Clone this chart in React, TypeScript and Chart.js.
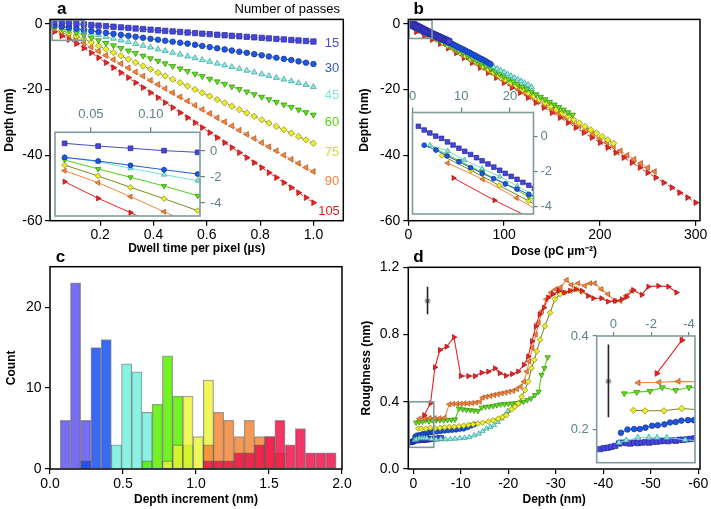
import { useEffect, useRef } from 'react';
import { Chart, registerables } from 'chart.js';

Chart.register(...registerables);

const FONT = "'Liberation Sans', Arial, Helvetica, sans-serif";
Chart.defaults.font.family = FONT;

const FIG_W = 711;
const FIG_H = 509;

/* ---------------- data: panels a & b ---------------- */
const PASSES = [15, 30, 45, 60, 75, 90, 105];
const DWELL_US = [
  0.028, 0.056, 0.083, 0.111, 0.139, 0.167, 0.194, 0.222, 0.25, 0.278, 0.306, 0.333,
  0.361, 0.389, 0.417, 0.444, 0.472, 0.5, 0.528, 0.556, 0.583, 0.611, 0.639, 0.667,
  0.694, 0.722, 0.75, 0.778, 0.806, 0.833, 0.861, 0.889, 0.917, 0.944, 0.972, 1.0,
];
const DEPTH_15 = [
  0.59, 0.38, 0.21, 0.03, -0.1, -0.3, -0.48, -0.66, -0.84, -1.02, -1.2, -1.38,
  -1.56, -1.74, -1.92, -2.1, -2.27, -2.44, -2.61, -2.78, -2.95, -3.11, -3.27, -3.43,
  -3.59, -3.75, -3.91, -4.07, -4.23, -4.39, -4.55, -4.71, -4.87, -5.03, -5.19, -5.35,
];
const DEPTH_30 = [
  -0.49, -0.77, -1.1, -1.44, -1.77, -2.1, -2.4, -2.7, -3.0, -3.3, -3.6, -3.9,
  -4.2, -4.5, -4.8, -5.1, -5.4, -5.7, -6.0, -6.35, -6.7, -7.05, -7.4, -7.75,
  -8.1, -8.45, -8.8, -9.2, -9.55, -9.9, -10.3, -10.65, -11.0, -11.4, -11.8, -12.2,
];
const DEPTH_45 = [
  -0.49, -0.82, -1.33, -1.82, -2.28, -2.83, -3.35, -3.9, -4.45, -5.0, -5.5, -6.05,
  -6.6, -7.15, -7.7, -8.2, -8.75, -9.3, -9.85, -10.4, -10.95, -11.5, -12.05, -12.6,
  -13.1, -13.65, -14.2, -14.75, -15.3, -15.85, -16.4, -16.9, -17.45, -18.0, -18.55, -19.2,
];
const DEPTH_60 = [
  -0.69, -1.38, -2.02, -2.69, -3.44, -4.2, -5.0, -5.8, -6.55, -7.35, -8.15, -8.9,
  -9.7, -10.5, -11.25, -12.05, -12.85, -13.6, -14.4, -15.2, -15.95, -16.75, -17.55, -18.3,
  -19.1, -19.9, -20.65, -21.45, -22.25, -23.0, -23.8, -24.6, -25.35, -26.15, -26.95, -27.7,
];
const DEPTH_75 = [
  -1.08, -1.92, -2.79, -3.67, -4.59, -5.6, -6.65, -7.65, -8.7, -9.7, -10.75, -11.75,
  -12.8, -13.8, -14.85, -15.85, -16.9, -17.9, -18.95, -19.95, -21.0, -22.0, -23.05, -24.05,
  -25.1, -26.1, -27.15, -28.15, -29.2, -30.2, -31.25, -32.25, -33.3, -34.3, -35.35, -36.4,
];
const DEPTH_90 = [
  -1.51, -2.44, -3.51, -4.67, -5.8, -7.05, -8.3, -9.6, -10.85, -12.1, -13.4, -14.65,
  -15.9, -17.2, -18.45, -19.7, -21.0, -22.25, -23.5, -24.8, -26.05, -27.3, -28.6, -29.85,
  -31.1, -32.4, -33.65, -34.9, -36.2, -37.45, -38.7, -40.0, -41.25, -42.5, -43.8, -45.0,
];
const DEPTH_105 = [
  -2.36, -3.64, -4.74, -6.0, -7.35, -8.8, -10.3, -11.8, -13.3, -14.85, -16.35, -17.9,
  -19.4, -20.95, -22.45, -24.0, -25.5, -27.05, -28.55, -30.1, -31.6, -33.15, -34.65, -36.2,
  -37.7, -39.25, -40.75, -42.3, -43.8, -45.35, -46.85, -48.4, -49.9, -51.45, -52.95, -54.5,
];
// dose per pass for 1 µs dwell (pC µm^-2)
const DOSE_PER_PASS_US = 2.857;

/* ---------------- data: panel c ---------------- */
const BIN_CENTERS = [
  0.105, 0.175, 0.245, 0.315, 0.385, 0.455, 0.525, 0.595, 0.665, 0.735, 0.805, 0.875, 0.945,
  1.015, 1.085, 1.155, 1.225, 1.295, 1.365, 1.435, 1.505, 1.575, 1.645, 1.715, 1.785, 1.855, 1.925,
];
const HIST_15 = [6, 23, 6, 0, 0, 0, 0, 0, 0, 0, 0, 0, 0, 0, 0, 0, 0, 0, 0, 0, 0, 0, 0, 0, 0, 0, 0];
const HIST_30 = [0, 0, 1, 15, 16, 0, 0, 0, 0, 0, 0, 0, 0, 0, 0, 0, 0, 0, 0, 0, 0, 0, 0, 0, 0, 0, 0];
const HIST_45 = [0, 0, 0, 0, 0, 3, 13, 12, 7, 0, 0, 0, 0, 0, 0, 0, 0, 0, 0, 0, 0, 0, 0, 0, 0, 0, 0];
const HIST_60 = [0, 0, 0, 0, 0, 0, 0, 0, 1, 8, 14, 9, 3, 0, 0, 0, 0, 0, 0, 0, 0, 0, 0, 0, 0, 0, 0];
const HIST_75 = [0, 0, 0, 0, 0, 0, 0, 0, 0, 0, 1, 3, 9, 4, 11, 0, 0, 0, 0, 0, 0, 0, 0, 0, 0, 0, 0];
const HIST_90 = [0, 0, 0, 0, 0, 0, 0, 0, 0, 0, 0, 0, 0, 0, 3, 7, 6, 4, 6, 4, 4, 2, 0, 0, 0, 0, 0];
const HIST_105 = [0, 0, 0, 0, 0, 0, 0, 0, 0, 0, 0, 0, 0, 0, 1, 1, 1, 2, 2, 3, 4, 6, 3, 5, 2, 2, 2];

/* ---------------- data: panel d  [depth, roughness] ---------------- */
const ROUGH_15 = [
  [0.7, 0.158], [0.5, 0.16], [0.3, 0.161], [0.1, 0.163], [-0.1, 0.165], [-0.3, 0.17], [-0.5, 0.172],
  [-0.7, 0.171], [-0.9, 0.17], [-1.1, 0.172], [-1.3, 0.171], [-1.5, 0.172], [-1.7, 0.173], [-1.9, 0.172],
  [-2.1, 0.174], [-2.3, 0.174], [-2.5, 0.175], [-2.7, 0.176], [-2.9, 0.175], [-3.1, 0.177], [-3.3, 0.176],
  [-3.5, 0.178], [-3.7, 0.178], [-3.9, 0.179], [-4.1, 0.18], [-4.3, 0.181], [-4.7, 0.181], [-5.1, 0.182],
  [-5.5, 0.184], [-5.9, 0.185],
];
const ROUGH_30 = [
  [-0.4, 0.193], [-0.75, 0.2], [-1.1, 0.201], [-1.4, 0.201], [-1.7, 0.204], [-2.05, 0.208], [-2.35, 0.209],
  [-2.7, 0.211], [-3.0, 0.215], [-3.3, 0.216], [-3.6, 0.219], [-3.95, 0.22], [-4.25, 0.22], [-5.0, 0.222],
  [-5.8, 0.225], [-6.6, 0.228], [-7.4, 0.23], [-8.2, 0.232], [-9.0, 0.234], [-9.8, 0.238], [-10.6, 0.24],
  [-11.4, 0.248], [-12.2, 0.258], [-12.8, 0.265],
];
const ROUGH_45 = [
  [-0.3, 0.172], [-0.68, 0.177], [-1.3, 0.183], [-1.88, 0.183], [-2.32, 0.183], [-2.83, 0.183], [-3.8, 0.178],
  [-4.8, 0.175], [-5.8, 0.178], [-6.8, 0.176], [-7.8, 0.178], [-8.8, 0.18], [-9.8, 0.183], [-10.8, 0.185],
  [-11.8, 0.19], [-12.8, 0.2], [-13.8, 0.21], [-14.6, 0.225], [-15.4, 0.24], [-16.2, 0.25], [-17.0, 0.26],
  [-17.8, 0.28], [-18.6, 0.3], [-19.3, 0.32], [-19.9, 0.345],
];
const ROUGH_60 = [
  [-0.58, 0.277], [-1.24, 0.28], [-1.94, 0.282], [-2.59, 0.29], [-3.3, 0.284], [-4.0, 0.29], [-4.8, 0.29],
  [-5.6, 0.29], [-6.4, 0.29], [-7.2, 0.292], [-8.0, 0.293], [-8.8, 0.295], [-9.6, 0.36], [-10.4, 0.355],
  [-11.2, 0.352], [-12.0, 0.35], [-12.8, 0.348], [-13.6, 0.345], [-14.4, 0.365], [-15.2, 0.37], [-16.0, 0.372],
  [-16.8, 0.375], [-17.6, 0.38], [-18.4, 0.385], [-19.2, 0.385], [-20.0, 0.388], [-20.8, 0.39], [-21.6, 0.392],
  [-22.4, 0.395], [-23.2, 0.4], [-24.0, 0.41], [-24.8, 0.42], [-25.6, 0.44], [-26.4, 0.46], [-27.0, 0.56],
  [-27.6, 0.6], [-28.3, 0.665],
];
const ROUGH_75 = [
  [-1.06, 0.241], [-1.68, 0.24], [-2.68, 0.24], [-3.62, 0.245], [-4.6, 0.242], [-5.6, 0.245], [-6.6, 0.248],
  [-7.6, 0.25], [-8.6, 0.252], [-9.6, 0.255], [-10.6, 0.258], [-11.6, 0.262], [-12.6, 0.266], [-13.6, 0.27],
  [-14.6, 0.275], [-15.8, 0.282], [-16.8, 0.29], [-17.9, 0.3], [-18.8, 0.31], [-19.6, 0.32], [-20.7, 0.355],
  [-21.4, 0.37], [-22.1, 0.39], [-22.8, 0.43], [-23.5, 0.47], [-24.2, 0.52], [-24.9, 0.6], [-25.5, 0.65],
  [-26.0, 0.7], [-26.7, 0.77], [-27.7, 0.85], [-28.8, 0.93], [-29.8, 1.01], [-30.9, 1.04], [-31.9, 1.05],
  [-33.3, 1.06], [-34.4, 1.07], [-35.4, 1.055],
];
const ROUGH_90 = [
  [-1.32, 0.3], [-2.42, 0.301], [-3.44, 0.303], [-4.5, 0.302], [-5.5, 0.302], [-6.6, 0.305], [-7.6, 0.385],
  [-8.4, 0.388], [-9.2, 0.388], [-10.0, 0.388], [-10.8, 0.39], [-11.6, 0.39], [-12.4, 0.392], [-13.2, 0.395],
  [-14.0, 0.4], [-14.6, 0.425], [-15.4, 0.43], [-16.2, 0.435], [-17.0, 0.44], [-17.8, 0.445], [-18.6, 0.45],
  [-19.4, 0.455], [-20.2, 0.46], [-21.0, 0.465], [-21.8, 0.475], [-22.6, 0.49], [-23.3, 0.52], [-23.9, 0.58],
  [-24.4, 0.64], [-25.1, 0.72], [-25.8, 0.8], [-26.4, 0.87], [-27.1, 0.94], [-28.0, 1.01], [-29.0, 1.05],
  [-30.0, 1.07], [-31.0, 1.08], [-32.3, 1.125], [-33.3, 1.095], [-34.7, 1.105], [-36.1, 1.09], [-37.2, 1.105],
  [-38.2, 1.105], [-39.6, 1.07], [-41.0, 1.04], [-42.4, 1.0], [-43.6, 1.0], [-44.8, 1.03], [-46.0, 1.06],
];
const ROUGH_105 = [
  [-2.3, 0.32], [-3.62, 0.391], [-4.56, 0.605], [-5.6, 0.708], [-7.0, 0.728], [-8.56, 0.784], [-10.0, 0.553],
  [-11.6, 0.553], [-13.0, 0.553], [-14.4, 0.573], [-15.8, 0.579], [-17.2, 0.599], [-18.2, 0.57], [-19.5, 0.555],
  [-20.8, 0.565], [-22.1, 0.58], [-23.3, 0.62], [-24.2, 0.67], [-25.0, 0.76], [-25.8, 0.85], [-26.6, 0.92],
  [-27.5, 0.96], [-28.4, 1.02], [-29.4, 1.04], [-30.6, 1.06], [-31.8, 1.05], [-33.0, 1.06], [-34.2, 1.07],
  [-35.5, 1.06], [-36.8, 1.03], [-37.9, 1.016], [-39.6, 1.016], [-41.0, 0.996], [-42.5, 1.0], [-43.9, 1.01],
  [-44.9, 1.024], [-46.3, 1.065], [-48.1, 1.036], [-49.5, 1.085], [-51.6, 1.089], [-53.7, 1.085], [-55.4, 1.05],
];
// reference error bar: [depth, low, centre, high]
const REF_BAR_MAIN = [-3.0, 0.92, 1.0, 1.085];
const REF_BAR_INSET = [0.26, 0.226, 0.303, 0.382];

/* ---------------- tick values ---------------- */
const A_X_TICKS = [0.2, 0.4, 0.6, 0.8, 1.0];
const DEPTH_TICKS = [0, -20, -40, -60];
const A_IN_X_TICKS = [0.05, 0.1];
const IN_DEPTH_TICKS = [0, -2, -4];
const B_X_TICKS = [0, 100, 200, 300];
const B_IN_X_TICKS = [0, 10, 20];
const C_X_TICKS = [0, 0.5, 1.0, 1.5, 2.0];
const C_Y_TICKS = [0, 10, 20];
const D_X_TICKS = [0, -10, -20, -30, -40, -50, -60];
const D_Y_TICKS = [0, 0.4, 0.8, 1.2];
const D_IN_X_TICKS = [0, -2, -4];
const D_IN_Y_TICKS = [0.2, 0.4];

/* ---------------- styles ---------------- */
type Style = { fill: string; edge: string; line: string; shape: string; rot: number; k: number; label: string; bar: string };
const STYLES: Style[] = [
  { fill: '#4646dc', edge: '#26269a', line: '#4a4ad6', shape: 'rect', rot: 0, k: 1.35, label: '#4b4bd8', bar: 'rgba(95,85,240,0.85)' },
  { fill: '#1f55e2', edge: '#0f338f', line: '#2458dc', shape: 'circle', rot: 0, k: 1.0, label: '#2a5ad8', bar: 'rgba(25,80,240,0.85)' },
  { fill: '#8be9e1', edge: '#3f9d98', line: '#6fe2da', shape: 'triangle', rot: 0, k: 1.2, label: '#7fe5dd', bar: 'rgba(115,240,222,0.85)' },
  { fill: '#5fe01c', edge: '#2f8a0a', line: '#4fd410', shape: 'triangle', rot: 180, k: 1.2, label: '#58d41a', bar: 'rgba(90,240,0,0.85)' },
  { fill: '#ecec2c', edge: '#8a8a14', line: '#7a8a1e', shape: 'rectRot', rot: 0, k: 1.15, label: '#cfdc28', bar: 'rgba(235,245,50,0.8)' },
  { fill: '#f5853e', edge: '#b0531c', line: '#f5853e', shape: 'triangle', rot: 270, k: 1.2, label: '#f5823c', bar: 'rgba(245,135,55,0.85)' },
  { fill: '#f22020', edge: '#a01010', line: '#f02020', shape: 'triangle', rot: 90, k: 1.2, label: '#ee1a1a', bar: 'rgba(240,20,75,0.85)' },
];
const INSET_GRAY = '#5f8389';
const BOX_GRAY = '#7f9b9b';

const DEPTH_SERIES = [DEPTH_15, DEPTH_30, DEPTH_45, DEPTH_60, DEPTH_75, DEPTH_90, DEPTH_105];
const HIST_SERIES = [HIST_15, HIST_30, HIST_45, HIST_60, HIST_75, HIST_90, HIST_105];
const ROUGH_SERIES = [ROUGH_15, ROUGH_30, ROUGH_45, ROUGH_60, ROUGH_75, ROUGH_90, ROUGH_105];

/* ---------------- layout ---------------- */
type Area = { l: number; t: number; r: number; b: number };
type AxisSpec = { min: number; max: number; ticks: number[]; dec: number; reverse?: boolean };

const A_MAIN: Area = { l: 50, t: 19.4, r: 343.3, b: 220.7 };
const B_MAIN: Area = { l: 408.3, t: 19.4, r: 700, b: 220.7 };
const C_MAIN: Area = { l: 50, t: 266.7, r: 342, b: 469 };
const D_MAIN: Area = { l: 408.3, t: 267.3, r: 700, b: 469 };
const A_IN: Area = { l: 55, t: 132.3, r: 200, b: 216 };
const B_IN: Area = { l: 412.5, t: 112.5, r: 533.5, b: 214 };
const D_IN: Area = { l: 596.7, t: 336, r: 695, b: 462.7 };

const A_X: AxisSpec = { min: 0.012, max: 1.112, ticks: A_X_TICKS, dec: 1 };
const DEPTH_Y: AxisSpec = { min: -60, max: 1.4, ticks: DEPTH_TICKS, dec: 0 };
const A_IN_X: AxisSpec = { min: 0.02, max: 0.141, ticks: A_IN_X_TICKS, dec: 2 };
const A_IN_Y: AxisSpec = { min: -5.0, max: 1.44, ticks: IN_DEPTH_TICKS, dec: 0 };
const B_X: AxisSpec = { min: 0, max: 304.5, ticks: B_X_TICKS, dec: 0 };
const B_IN_X: AxisSpec = { min: 0, max: 24.8, ticks: B_IN_X_TICKS, dec: 0 };
const B_IN_Y: AxisSpec = { min: -4.42, max: 1.38, ticks: IN_DEPTH_TICKS, dec: 0 };
const C_X: AxisSpec = { min: 0, max: 2, ticks: C_X_TICKS, dec: 1 };
const C_Y: AxisSpec = { min: 0, max: 25, ticks: C_Y_TICKS, dec: 0 };
const D_X: AxisSpec = { min: -60.36, max: 1.05, ticks: D_X_TICKS, dec: 0, reverse: true };
const D_Y: AxisSpec = { min: 0, max: 1.2, ticks: D_Y_TICKS, dec: 1 };
const D_IN_X: AxisSpec = { min: -4.32, max: 0.88, ticks: D_IN_X_TICKS, dec: 0, reverse: true };
const D_IN_Y: AxisSpec = { min: 0.129, max: 0.4, ticks: D_IN_Y_TICKS, dec: 1 };

const MAIN_TICK_FONT = 14;
const INSET_TICK_FONT = 13;

function makeAxis(spec: AxisSpec, o: {
  position: string; size: number; color: string; tickLen: number; pad: number; fontSize: number;
  title?: string; titlePad?: number;
}) {
  const horizontal = o.position === 'top' || o.position === 'bottom';
  return {
    type: 'linear',
    position: o.position,
    min: spec.min,
    max: spec.max,
    reverse: !!spec.reverse,
    bounds: 'data',
    offset: false,
    afterBuildTicks: (s: any) => { s.ticks = spec.ticks.map((v) => ({ value: v })); },
    afterFit: (s: any) => { if (horizontal) s.height = o.size; else s.width = o.size; },
    grid: {
      display: true, drawOnChartArea: false, drawTicks: true, tickLength: o.tickLen,
      tickColor: o.color, tickWidth: 1.2, color: o.color, lineWidth: 1.2, offset: false,
    },
    border: { display: false },
    ticks: {
      color: o.color, font: { size: o.fontSize, lineHeight: 1.2 }, padding: o.pad, autoSkip: false,
      maxRotation: 0, minRotation: 0, callback: (v: any) => Number(v).toFixed(spec.dec),
    },
    title: o.title
      ? { display: true, text: o.title, color: '#000', font: { size: 12, weight: 'bold', lineHeight: 1 }, padding: o.titlePad ?? 0 }
      : { display: false },
  };
}

function framePlugin(color: string, width: number, fillWhite: boolean) {
  return {
    id: 'frame',
    beforeDraw(chart: any) {
      if (!fillWhite) return;
      const { ctx, chartArea: a } = chart;
      ctx.save();
      ctx.fillStyle = '#fff';
      ctx.fillRect(a.left, a.top, a.right - a.left, a.bottom - a.top);
      ctx.restore();
    },
    afterDraw(chart: any) {
      const { ctx, chartArea: a } = chart;
      ctx.save();
      ctx.strokeStyle = color;
      ctx.lineWidth = width;
      ctx.strokeRect(a.left, a.top, a.right - a.left, a.bottom - a.top);
      ctx.restore();
    },
  };
}

function zoomBoxPlugin(xr: AxisSpec, yr: AxisSpec) {
  return {
    id: 'zoombox',
    afterDatasetsDraw(chart: any) {
      const { ctx, chartArea: a } = chart;
      const xs = chart.scales.x;
      const ys = chart.scales.y;
      const x0 = xs.getPixelForValue(xr.min);
      const x1 = xs.getPixelForValue(xr.max);
      const y0 = ys.getPixelForValue(yr.min);
      const y1 = ys.getPixelForValue(yr.max);
      const l = Math.max(Math.min(x0, x1), a.left + 0.8);
      const r = Math.min(Math.max(x0, x1), a.right);
      const t = Math.max(Math.min(y0, y1), a.top + 0.8);
      const b = Math.min(Math.max(y0, y1), a.bottom);
      ctx.save();
      ctx.strokeStyle = BOX_GRAY;
      ctx.lineWidth = 1.6;
      ctx.strokeRect(l, t, r - l, b - t);
      ctx.restore();
    },
  };
}

function seriesDataset(points: { x: number; y: number }[], st: Style, radius: number, dash: number[], lineWidth = 1) {
  return {
    type: 'line',
    data: points,
    borderColor: st.line,
    borderWidth: lineWidth,
    borderDash: dash,
    backgroundColor: st.fill,
    pointBackgroundColor: st.fill,
    pointBorderColor: st.edge,
    pointBorderWidth: 0.7,
    pointRadius: radius * st.k,
    pointStyle: st.shape,
    pointRotation: st.rot,
    showLine: true,
    fill: false,
    tension: 0,
  };
}

function abDatasets(useDose: boolean, radius: number, dash: number[]) {
  return DEPTH_SERIES.map((depth, k) =>
    seriesDataset(
      DWELL_US.map((t, i) => ({ x: useDose ? DOSE_PER_PASS_US * PASSES[k] * t : t, y: depth[i] })),
      STYLES[k], radius, dash,
    ),
  );
}

function refBarDatasets(bar: number[], radius: number) {
  return [
    {
      type: 'line', data: [{ x: bar[0], y: bar[1] }, { x: bar[0], y: bar[3] }],
      borderColor: '#222', borderWidth: 1.6, pointRadius: 0, showLine: true, fill: false,
    },
    {
      type: 'line', data: [{ x: bar[0], y: bar[2] }], showLine: false,
      pointStyle: 'star', pointRadius: radius, pointBorderColor: '#8a8a8a', pointBorderWidth: 1.1,
      pointBackgroundColor: '#aaa', borderColor: '#8a8a8a',
    },
  ];
}

function dDatasets(radius: number, bar: number[], barRadius: number) {
  const order = [6, 5, 4, 3, 2, 1, 0];
  return [
    ...order.map((k) =>
      seriesDataset(ROUGH_SERIES[k].map((p) => ({ x: p[0], y: p[1] })), STYLES[k], radius, [], 1.1),
    ),
    ...refBarDatasets(bar, barRadius),
  ];
}

function histDatasets() {
  const order = [6, 5, 4, 3, 2, 1, 0];
  return order.map((k) => ({
    type: 'bar',
    data: BIN_CENTERS.map((x, i) => ({ x, y: HIST_SERIES[k][i] === 0 ? null : HIST_SERIES[k][i] })),
    backgroundColor: STYLES[k].bar,
    borderColor: 'rgba(70,70,70,0.55)',
    borderWidth: 1,
    grouped: false,
    barPercentage: 1,
    categoryPercentage: 1,
  }));
}

const BASE_OPTS = {
  animation: false,
  responsive: false,
  events: [],
  plugins: { legend: { display: false }, tooltip: { enabled: false } },
};

function mainChart(o: {
  type?: string; area: Area; axisLeft: number; x: AxisSpec; y: AxisSpec; xTitle: string; xTitleY: number;
  yTitle: string; yTitleX: number; xPad: number; yPad: number; datasets: any[]; zoom?: [AxisSpec, AxisSpec];
}) {
  const xH = o.xTitleY + 6 - o.area.b;
  const yW = o.area.l - o.axisLeft;
  return {
    type: o.type ?? 'line',
    data: { datasets: o.datasets },
    options: {
      ...BASE_OPTS,
      layout: { padding: { left: o.axisLeft, top: o.area.t, right: FIG_W - o.area.r, bottom: FIG_H - o.area.b - xH } },
      scales: {
        x: makeAxis(o.x, { position: 'bottom', size: xH, color: '#000', tickLen: 5, pad: o.xPad, fontSize: MAIN_TICK_FONT, title: o.xTitle, titlePad: 0 }),
        y: makeAxis(o.y, { position: 'left', size: yW, color: '#000', tickLen: 5, pad: o.yPad, fontSize: MAIN_TICK_FONT, title: o.yTitle, titlePad: o.yTitleX - o.axisLeft - 6 }),
      },
    },
    plugins: [framePlugin('#000', 1.5, false), ...(o.zoom ? [zoomBoxPlugin(o.zoom[0], o.zoom[1])] : [])],
  };
}

function insetChart(o: {
  area: Area; x: AxisSpec; y: AxisSpec; yPos: 'left' | 'right'; xSize: number; ySize: number;
  xTick: number; xPad: number; yTick: number; yPad: number; datasets: any[];
}) {
  const a = o.area;
  return {
    type: 'line',
    data: { datasets: o.datasets },
    options: {
      ...BASE_OPTS,
      layout: {
        padding: {
          left: o.yPos === 'left' ? a.l - o.ySize : a.l,
          right: o.yPos === 'right' ? FIG_W - a.r - o.ySize : FIG_W - a.r,
          top: a.t - o.xSize,
          bottom: FIG_H - a.b,
        },
      },
      scales: {
        x: makeAxis(o.x, { position: 'top', size: o.xSize, color: INSET_GRAY, tickLen: o.xTick, pad: o.xPad, fontSize: INSET_TICK_FONT }),
        y: makeAxis(o.y, { position: o.yPos, size: o.ySize, color: INSET_GRAY, tickLen: o.yTick, pad: o.yPad, fontSize: INSET_TICK_FONT }),
      },
    },
    plugins: [framePlugin(BOX_GRAY, 1.6, true)],
  };
}

function buildConfigs(): any[] {
  return [
    mainChart({
      area: A_MAIN, axisLeft: 0, x: A_X, y: DEPTH_Y, xTitle: 'Dwell time per pixel (µs)', xTitleY: 248.5,
      yTitle: 'Depth (nm)', yTitleX: 10, xPad: 1.5, yPad: 2.5, datasets: abDatasets(false, 2.8, [3, 2]), zoom: [A_IN_X, A_IN_Y],
    }),
    insetChart({
      area: A_IN, x: A_IN_X, y: A_IN_Y, yPos: 'right', xSize: 30, ySize: 30, xTick: 5, xPad: 5, yTick: 5, yPad: 5,
      datasets: abDatasets(false, 2.5, []),
    }),
    mainChart({
      area: B_MAIN, axisLeft: 355, x: B_X, y: DEPTH_Y, xTitle: 'Dose (pC µm⁻²)', xTitleY: 251.5,
      yTitle: 'Depth (nm)', yTitleX: 365, xPad: 1.5, yPad: 3, datasets: abDatasets(true, 2.8, [3, 2]), zoom: [B_IN_X, B_IN_Y],
    }),
    insetChart({
      area: B_IN, x: B_IN_X, y: B_IN_Y, yPos: 'right', xSize: 30, ySize: 30, xTick: 5, xPad: 3, yTick: 4, yPad: 3,
      datasets: abDatasets(true, 2.4, []),
    }),
    mainChart({
      type: 'bar', area: C_MAIN, axisLeft: 0, x: C_X, y: C_Y, xTitle: 'Depth increment (nm)', xTitleY: 500,
      yTitle: 'Count', yTitleX: 11.7, xPad: 1.5, yPad: 3.5, datasets: histDatasets(),
    }),
    mainChart({
      area: D_MAIN, axisLeft: 355, x: D_X, y: D_Y, xTitle: 'Depth (nm)', xTitleY: 500,
      yTitle: 'Roughness (nm)', yTitleX: 366.7, xPad: 1.5, yPad: 4, datasets: dDatasets(2.5, REF_BAR_MAIN, 3), zoom: [D_IN_X, D_IN_Y],
    }),
    insetChart({
      area: D_IN, x: D_IN_X, y: D_IN_Y, yPos: 'left', xSize: 25, ySize: 35, xTick: 4, xPad: 0, yTick: 4, yPad: 4,
      datasets: dDatasets(2.8, REF_BAR_INSET, 3),
    }),
  ];
}

/* ---------------- text overlays ---------------- */
const PASS_LABEL_POS = [
  [332, 42.7], [332, 67.3], [332, 94.3], [332, 121.7], [332, 151.7], [332, 180], [329, 210.7],
];

function Txt(p: { x: number; base: number; size: number; text: string; color?: string; bold?: boolean; align?: string }) {
  const tx = p.align === 'center' ? '-50%' : p.align === 'right' ? '-100%' : '0';
  return (
    <div
      style={{
        position: 'absolute', left: p.x, top: p.base - 0.8465 * p.size, transform: `translateX(${tx})`,
        fontSize: p.size, lineHeight: `${p.size}px`, color: p.color ?? '#000', fontWeight: p.bold ? 700 : 400,
        whiteSpace: 'nowrap', fontFamily: FONT,
      }}
    >
      {p.text}
    </div>
  );
}

export default function App() {
  const refs = useRef<(HTMLCanvasElement | null)[]>([]);
  const configs = buildConfigs();

  useEffect(() => {
    const charts = buildConfigs().map((cfg, i) => new Chart(refs.current[i] as HTMLCanvasElement, cfg));
    return () => charts.forEach((c) => c.destroy());
  }, []);

  return (
    <div style={{ position: 'absolute', left: 0, top: 0, width: FIG_W, height: FIG_H, background: '#fff', overflow: 'hidden' }}>
      {configs.map((_, i) => (
        <canvas
          key={i}
          ref={(el) => { refs.current[i] = el; }}
          width={FIG_W}
          height={FIG_H}
          style={{ position: 'absolute', left: 0, top: 0, width: FIG_W, height: FIG_H }}
        />
      ))}
      <Txt x={61.7} base={14.5} size={17} text="a" bold align="center" />
      <Txt x={418.8} base={14.5} size={17} text="b" bold align="center" />
      <Txt x={60.5} base={262.5} size={17} text="c" bold align="center" />
      <Txt x={418.5} base={262.5} size={17} text="d" bold align="center" />
      <Txt x={340} base={12.7} size={13} text="Number of passes" align="right" />
      {PASSES.map((p, k) => (
        <Txt key={p} x={PASS_LABEL_POS[k][0]} base={PASS_LABEL_POS[k][1] + 4.65} size={13} text={String(p)} color={STYLES[k].label} align="center" />
      ))}
    </div>
  );
}
